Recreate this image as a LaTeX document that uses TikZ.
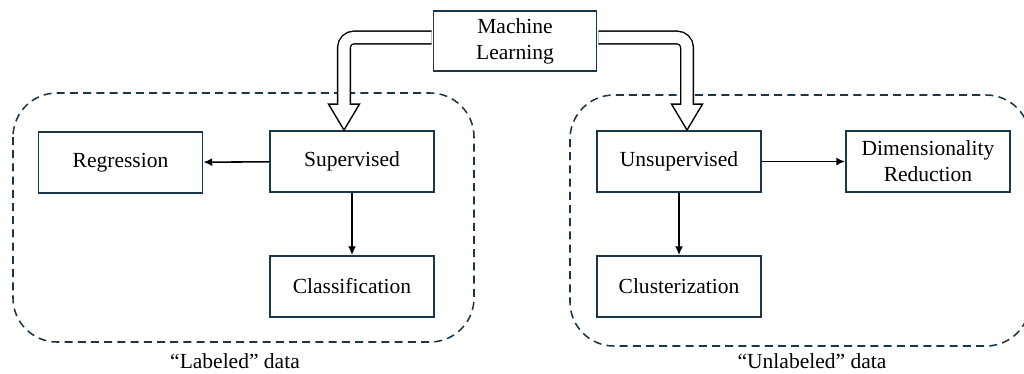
\documentclass[tikz,border=0pt]{standalone}
\usepackage{fontspec}
\setmainfont{Liberation Serif}
\newfontfamily\timesfont{Liberation Serif}
\usetikzlibrary{positioning,calc,arrows.meta}
\definecolor{navy}{HTML}{1C3648}

\begin{document}
\begin{tikzpicture}[
        x=0.025cm, y=-0.025cm,
        block/.style={rectangle, draw=navy, line width=1.3pt, fill=white,
            minimum width=4.1cm, minimum height=1.525cm, inner sep=1pt,
            align=center, font=\timesfont\fontsize{15.3}{18.5}\selectfont},
        area/.style={draw=navy, line width=1.1pt, dash pattern=on 2mm off 1.3mm,
            rounded corners=1.1cm},
        hollow/.style={draw=black, double=white, line width=1pt,
            double distance=2.8mm, rounded corners=2.5mm},
        arrowhead/.style={draw=black, fill=white, line width=1pt, line join=miter},
        link/.style={-{Latex[length=2.2mm, width=2mm]}, line width=1.1pt},
        caption/.style={font=\timesfont\fontsize{15.3}{18.5}\selectfont},
    ]
        \useasboundingbox (0,0) rectangle (1024,374);

        \draw[area] (13,93) rectangle (474,342);
        \draw[area] (570,95) rectangle (1030,346);
        \node[caption] (lab) at (235,361) {“Labeled” data};
        \node[caption] (unlab) at (812,361) {“Unlabeled” data};

        \node[block, minimum width=4.075cm, minimum height=1.5cm] (ml) at (515,41)
            {Machine\\Learning};
        \node[block] (reg) at (120.5,162.5) {Regression};
        \node[block] (sup) at (352,161.5) {Supervised};
        \node[block] (cls) at (352,286.5) {Classification};
        \node[block] (uns) at (679,161.5) {Unsupervised};
        \node[block] (dim) at (928,161.5) {Dimensionality\\Reduction};
        \node[block] (clu) at (679,286.5) {Clusterization};

        % hollow arrows from the top box
        \draw[arrowhead] ($(sup.north)+(-8,0)$) -- ++(-15.5,-26) -- ++(31,0) -- cycle;
        \draw[hollow] ($(ml.west)+(-1,-3.5)$) -| ($(sup.north)+(-8,-25.3)$);
        \draw[arrowhead] ($(uns.north)+(8,0)$) -- ++(-15.5,-26) -- ++(31,0) -- cycle;
        \draw[hollow] ($(ml.east)+(1,-3.5)$) -| ($(uns.north)+(8,-25.3)$);

        \draw[link] (sup) to (reg);
        \draw[link] (sup) to (cls);
        \draw[link] (uns) to (dim);
        \draw[link] (uns) to (clu);
    \end{tikzpicture}
\end{document}
